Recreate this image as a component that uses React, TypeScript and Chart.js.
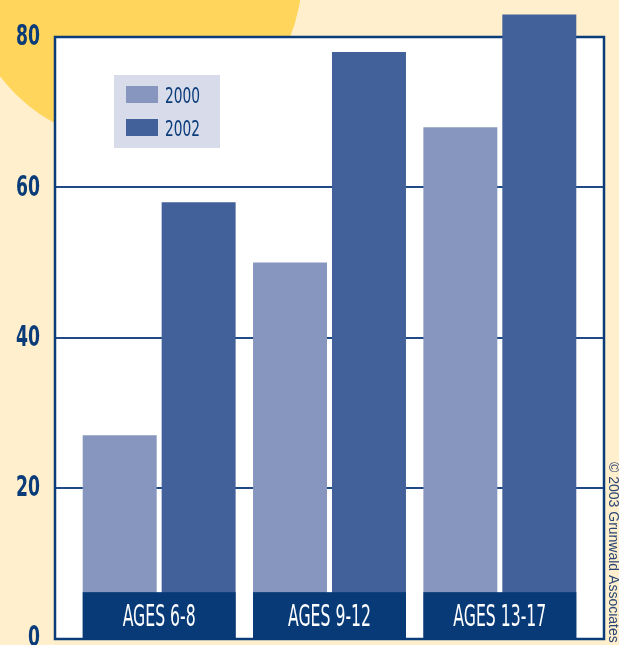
import { useEffect, useRef } from 'react';
import { Chart, registerables } from 'chart.js';

Chart.register(...registerables);

const categories = ['AGES 6-8', 'AGES 9-12', 'AGES 13-17'];
const seriesLabels = ['2000', '2002'];
const values2000 = [27, 50, 68];
const values2002 = [58, 78, 83];
const yTickValues = [0, 20, 40, 60, 80];
const credit = '© 2003 Grunwald Associates';

const NAVY = '#0B3C7A';
const LIGHT = '#8796BF';
const DARK = '#42619A';
const CREAM = '#FFEFCD';
const SUN = '#FFD55B';
const NARROW = '"Liberation Sans Narrow", "DejaVu Sans Condensed", "DejaVu Sans", sans-serif';

function squeezeText(ctx: any, text: string, x: number, y: number, font: string, factor: number, align: string, baseline: string) {
  ctx.save();
  ctx.font = font;
  ctx.textAlign = align;
  ctx.textBaseline = baseline;
  ctx.translate(x, y);
  ctx.scale(factor, 1);
  ctx.fillText(text, 0, 0);
  ctx.restore();
}

function factorFor(ctx: any, sample: string, font: string, target: number) {
  ctx.save();
  ctx.font = font;
  const w = ctx.measureText(sample).width;
  ctx.restore();
  return w > 0 ? Math.min(1, target / w) : 1;
}

const decorPlugin = {
  id: 'decor',
  beforeDraw(chart: any) {
    const { ctx, width, height } = chart;
    ctx.save();
    ctx.fillStyle = CREAM;
    ctx.fillRect(0, 0, width, height);
    ctx.fillStyle = SUN;
    ctx.beginPath();
    ctx.arc(134, -25, 168, 0, Math.PI * 2);
    ctx.fill();
    ctx.restore();
  },
  beforeDatasetsDraw(chart: any) {
    const { ctx, chartArea: ca } = chart;
    const y = chart.scales.y;
    const left = ca.left - 20;
    const right = ca.right + 20;
    const top = ca.top;
    const bottom = ca.bottom + 2;
    ctx.save();
    ctx.fillStyle = '#FFFFFF';
    ctx.fillRect(left, top, right - left, bottom - top);
    ctx.strokeStyle = '#1F4A85';
    ctx.lineWidth = 2;
    yTickValues.forEach((v) => {
      if (v === 0 || v === 80) return;
      const py = Math.round(y.getPixelForValue(v));
      ctx.beginPath();
      ctx.moveTo(left, py);
      ctx.lineTo(right, py);
      ctx.stroke();
    });
    ctx.strokeStyle = NAVY;
    ctx.lineWidth = 2.5;
    ctx.strokeRect(left + 1, top, right - left - 2, bottom - top - 1);
    const yFont = `bold 28px ${NARROW}`;
    const yf = factorFor(ctx, '80', yFont, 24);
    ctx.fillStyle = NAVY;
    y.ticks.forEach((t: any) => {
      const py = y.getPixelForValue(t.value);
      squeezeText(ctx, String(t.value), 40, py + 1, yFont, yf, 'right', 'middle');
    });
    ctx.restore();
  },
  afterDatasetsDraw(chart: any) {
    const { ctx, chartArea: ca } = chart;
    const y = chart.scales.y;
    const m0 = chart.getDatasetMeta(0);
    const m1 = chart.getDatasetMeta(1);
    ctx.save();
    const catFont = `31px ${NARROW}`;
    const cf = factorFor(ctx, 'AGES 6-8', catFont, 73);
    categories.forEach((label, i) => {
      const b0 = m0.data[i];
      const b1 = m1.data[i];
      const l = b0.x - b0.width / 2;
      const r = b1.x + b1.width / 2;
      const t = y.getPixelForValue(6.1);
      const btm = ca.bottom + 2;
      ctx.fillStyle = '#083A78';
      ctx.fillRect(l, t, r - l, btm - t);
      ctx.fillStyle = '#FFFFFF';
      squeezeText(ctx, label, (l + r) / 2, ca.bottom - 12, catFont, cf, 'center', 'alphabetic');
    });
    const lx = ca.left + 40;
    const ly = ca.top + 38;
    ctx.fillStyle = '#D8DBE9';
    ctx.fillRect(lx, ly, 106, 73);
    const colors = [LIGHT, DARK];
    const legFont = `21px ${NARROW}`;
    const lf = factorFor(ctx, '2000', legFont, 35);
    seriesLabels.forEach((lab, i) => {
      const sy = ly + 11 + i * 33;
      ctx.fillStyle = colors[i];
      ctx.fillRect(lx + 12, sy, 32, 17);
      ctx.fillStyle = NAVY;
      squeezeText(ctx, lab, lx + 51, sy + 17, legFont, lf, 'left', 'alphabetic');
    });
    ctx.save();
    ctx.translate(609, 462);
    ctx.rotate(Math.PI / 2);
    ctx.fillStyle = '#2A4676';
    ctx.font = '14px "Liberation Sans", Arial, sans-serif';
    ctx.textAlign = 'left';
    ctx.textBaseline = 'alphabetic';
    ctx.fillText(credit, 0, 0);
    ctx.restore();
    ctx.restore();
  },
};

export default function App() {
  const ref = useRef<HTMLCanvasElement | null>(null);
  useEffect(() => {
    document.body.style.margin = '0';
    const canvas = ref.current;
    if (!canvas) return;
    const chart = new Chart(canvas, {
      type: 'bar',
      data: {
        labels: categories,
        datasets: [
          {
            label: seriesLabels[0],
            data: values2000,
            backgroundColor: LIGHT,
            borderWidth: 0,
            barPercentage: 0.937,
            categoryPercentage: 0.927,
            clip: false as any,
          },
          {
            label: seriesLabels[1],
            data: values2002,
            backgroundColor: DARK,
            borderWidth: 0,
            barPercentage: 0.937,
            categoryPercentage: 0.927,
            clip: false as any,
          },
        ],
      },
      options: {
        responsive: false,
        maintainAspectRatio: false,
        devicePixelRatio: 1,
        animation: false,
        layout: { padding: { left: 0, right: 34, top: 37, bottom: 7 } },
        plugins: {
          legend: { display: false },
          tooltip: { enabled: false },
        },
        scales: {
          x: {
            display: false,
            grid: { display: false },
          },
          y: {
            min: 0,
            max: 80,
            afterFit(scale: any) {
              scale.width = 74;
              scale.paddingTop = 0;
              scale.paddingBottom = 0;
            },
            afterBuildTicks(scale: any) {
              scale.ticks = yTickValues.map((v) => ({ value: v }));
            },
            ticks: {
              padding: 34,
              color: 'rgba(0,0,0,0)',
              font: { family: NARROW, size: 27, weight: 'bold' },
            },
            grid: { display: false, drawTicks: false },
            border: { display: false },
          },
        },
      },
      plugins: [decorPlugin],
    });
    return () => chart.destroy();
  }, []);
  return (
    <div style={{ width: 619, height: 645 }}>
      <canvas ref={ref} width={619} height={645} style={{ display: 'block' }} />
    </div>
  );
}
